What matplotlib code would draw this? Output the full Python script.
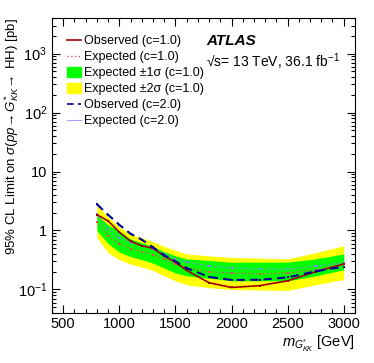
import numpy as np
import matplotlib
matplotlib.use('Agg')
import matplotlib.pyplot as plt
from matplotlib.patches import Patch
from matplotlib.lines import Line2D
from matplotlib.ticker import FixedLocator, LogLocator, MultipleLocator, NullFormatter

plt.rcParams['font.family'] = ['Liberation Sans', 'DejaVu Sans']
plt.rcParams['mathtext.fontset'] = 'custom'
plt.rcParams['mathtext.rm'] = 'Liberation Sans'
plt.rcParams['mathtext.it'] = 'Liberation Sans:italic'
plt.rcParams['mathtext.bf'] = 'Liberation Sans:bold'

# graviton mass points [GeV]
mass = [800, 900, 1000, 1100, 1200, 1300, 1400, 1500, 1600, 1800, 2000, 2250, 2500, 2750, 3000]

# c = 1.0 limits [pb]
obs_c1 = [1.86, 1.45, 0.94, 0.66, 0.55, 0.50, 0.37, 0.29, 0.21, 0.13, 0.108, 0.116, 0.14, 0.20, 0.27]
exp_c1 = [1.42, 0.82, 0.60, 0.49, 0.44, 0.39, 0.33, 0.27, 0.235, 0.20, 0.19, 0.185, 0.19, 0.215, 0.27]
exp_p2s = [2.7, 1.7, 1.15, 0.88, 0.75, 0.65, 0.54, 0.46, 0.40, 0.37, 0.35, 0.34, 0.33, 0.42, 0.55]
exp_p1s = [1.85, 1.25, 0.98, 0.72, 0.62, 0.53, 0.44, 0.37, 0.33, 0.31, 0.29, 0.29, 0.29, 0.33, 0.40]
exp_m1s = [1.0, 0.60, 0.43, 0.36, 0.32, 0.28, 0.23, 0.19, 0.17, 0.155, 0.14, 0.14, 0.14, 0.17, 0.215]
exp_m2s = [0.76, 0.42, 0.32, 0.27, 0.24, 0.21, 0.17, 0.14, 0.12, 0.107, 0.10, 0.098, 0.096, 0.12, 0.148]

# c = 2.0 limits [pb]
obs_c2 = [2.8, 1.85, 1.25, 0.88, 0.70, 0.52, 0.38, 0.30, 0.23, 0.163, 0.145, 0.146, 0.16, 0.203, 0.243]
exp_c2 = [1.88, 1.05, 0.75, 0.62, 0.55, 0.48, 0.40, 0.33, 0.29, 0.25, 0.23, 0.22, 0.22, 0.25, 0.285]

fig = plt.figure(figsize=(3.74, 3.63), dpi=100)
ax = fig.add_axes([0.139, 0.138, 0.810, 0.812])

ax.fill_between(mass, exp_m2s, exp_p2s, color='#ffff00', lw=0)
ax.fill_between(mass, exp_m1s, exp_p1s, color='#00ff00', lw=0)

ax.plot(mass, exp_c1, color='#e05060', ls=':', lw=1.0, marker='s', ms=2, mew=0)
ax.plot(mass, exp_c2, color='#8080ff', ls=':', lw=1.0, marker='s', ms=2, mew=0)
ax.plot(mass, obs_c1, color='#a00000', ls='-', lw=1.2, marker='s', ms=2, mew=0)
ax.plot(mass, obs_c2, color='#000099', ls=(0, (4, 2.5)), lw=1.5, marker='s', ms=2, mew=0)

ax.set_yscale('log')
ax.set_xlim(400, 3100)
ax.set_ylim(0.04, 4000)

ax.xaxis.set_major_locator(MultipleLocator(500))
ax.xaxis.set_minor_locator(MultipleLocator(100))
ax.yaxis.set_major_locator(FixedLocator([0.1, 1, 10, 100, 1000]))
ax.set_yticklabels([r'$10^{-1}$', '1', '10', r'$10^{2}$', r'$10^{3}$'])
ax.yaxis.set_minor_locator(LogLocator(base=10, subs=np.arange(2, 10)))
ax.yaxis.set_minor_formatter(NullFormatter())

ax.tick_params(which='both', direction='in', top=True, right=True, labelsize=10.5)
ax.tick_params(which='major', length=6, width=0.8)
ax.tick_params(which='minor', length=3, width=0.8)
ax.tick_params(axis='x', pad=3)

ax.set_xlabel(r'$m_{G^{*}_{KK}}$ [GeV]', loc='right', fontsize=10.5, labelpad=2)
ax.set_ylabel(r'95% CL Limit on $\sigma(pp\!\rightarrow G^{*}_{KK}\!\rightarrow$ HH) [pb]',
              loc='top', fontsize=9.5)
ax.yaxis.set_label_coords(-0.102, 1.0)

ax.text(0.51, 0.91, 'ATLAS', transform=ax.transAxes, fontsize=11,
        fontweight='bold', fontstyle='italic')
ax.text(0.51, 0.835, '\u221as= 13 TeV, 36.1 fb$^{-1}$', transform=ax.transAxes,
        fontsize=10)

handles = [
    Line2D([], [], color='#a00000', lw=1.2),
    Line2D([], [], color='#e05060', ls=':', lw=1.0),
    Patch(color='#00ff00'),
    Patch(color='#ffff00'),
    Line2D([], [], color='#000099', ls=(0, (4, 2.5)), lw=1.2),
    Line2D([], [], color='#a0a0ff', lw=0.8),
]
labels = ['Observed (c=1.0)', 'Expected (c=1.0)', 'Expected \u00b11\u03c3 (c=1.0)',
          'Expected \u00b12\u03c3 (c=1.0)', 'Observed (c=2.0)', 'Expected (c=2.0)']
ax.legend(handles, labels, loc='upper left', bbox_to_anchor=(0.05, 0.943),
          frameon=False, fontsize=9, handlelength=1.1, handletextpad=0.25,
          labelspacing=0.28, borderpad=0, borderaxespad=0, handleheight=0.9)

fig.savefig('out.png', dpi=100)
